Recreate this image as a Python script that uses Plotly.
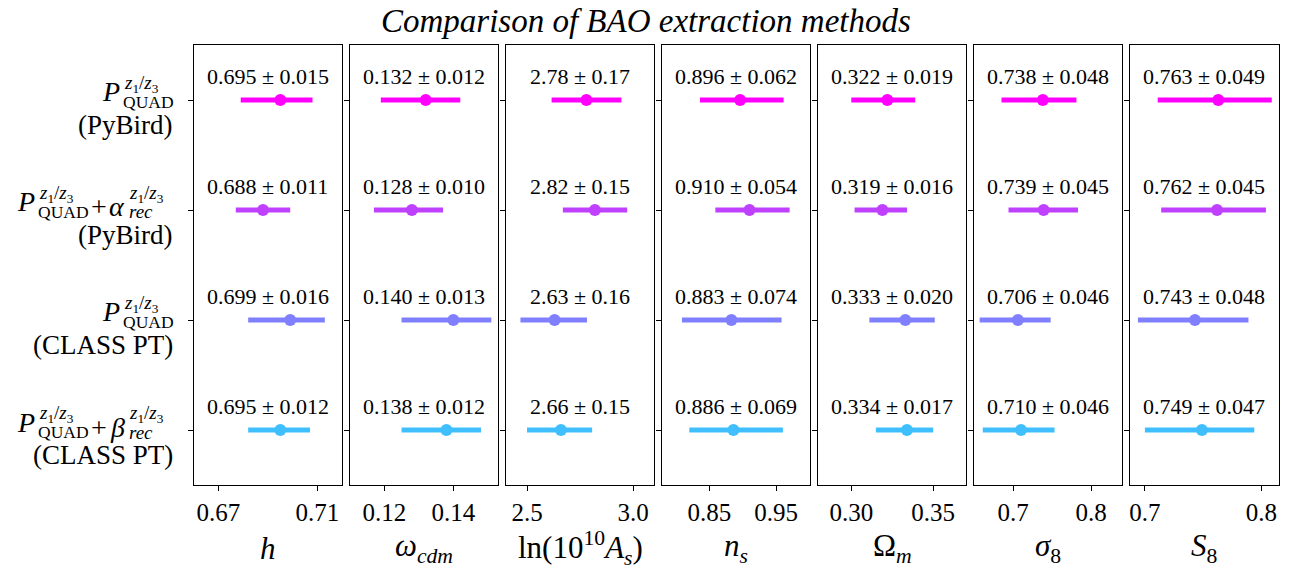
import plotly.graph_objects as go

W, H = 1296, 571

# ---------------- data ----------------
rows = ["PQUAD (PyBird)", "PQUAD + alpha_rec (PyBird)", "PQUAD (CLASS PT)", "PQUAD + beta_rec (CLASS PT)"]
colors = ["#ff00ff", "#bf40ff", "#8080ff", "#40bfff"]

axis_titles = ["<i>h</i>", "<i>ω</i><sub><i>cdm</i></sub>",
               "ln(10<sup>10</sup><i>A</i><sub><i>s</i></sub>)",
               "<i>n</i><sub><i>s</i></sub>", "Ω<sub><i>m</i></sub>",
               "<i>σ</i><sub>8</sub>", "<i>S</i><sub>8</sub>"]

h_mean = [0.695, 0.688, 0.699, 0.695]
h_sig = [0.015, 0.011, 0.016, 0.012]
h_lo = [0.679, 0.677, 0.682, 0.682]
h_hi = [0.708, 0.699, 0.713, 0.707]

wcdm_mean = [0.132, 0.128, 0.140, 0.138]
wcdm_sig = [0.012, 0.010, 0.013, 0.012]
wcdm_lo = [0.119, 0.117, 0.125, 0.125]
wcdm_hi = [0.142, 0.137, 0.151, 0.148]

lnAs_mean = [2.78, 2.82, 2.63, 2.66]
lnAs_sig = [0.17, 0.15, 0.16, 0.15]
lnAs_lo = [2.616, 2.669, 2.469, 2.500]
lnAs_hi = [2.945, 2.972, 2.783, 2.807]

ns_mean = [0.896, 0.910, 0.883, 0.886]
ns_sig = [0.062, 0.054, 0.074, 0.069]
ns_lo = [0.836, 0.859, 0.809, 0.820]
ns_hi = [0.961, 0.970, 0.958, 0.960]

Om_mean = [0.322, 0.319, 0.333, 0.334]
Om_sig = [0.019, 0.016, 0.020, 0.017]
Om_lo = [0.300, 0.302, 0.311, 0.315]
Om_hi = [0.339, 0.334, 0.351, 0.350]

s8_mean = [0.738, 0.739, 0.706, 0.710]
s8_sig = [0.048, 0.045, 0.046, 0.046]
s8_lo = [0.685, 0.694, 0.657, 0.661]
s8_hi = [0.781, 0.783, 0.748, 0.753]

S8_mean = [0.763, 0.762, 0.743, 0.749]
S8_sig = [0.049, 0.045, 0.048, 0.047]
S8_lo = [0.711, 0.714, 0.694, 0.700]
S8_hi = [0.809, 0.804, 0.789, 0.794]

decimals = [3, 3, 2, 3, 3, 3, 3]
tick_vals = [[0.67, 0.71], [0.12, 0.14], [2.5, 3.0], [0.85, 0.95], [0.30, 0.35], [0.7, 0.8], [0.7, 0.8]]
tick_text = [["0.67", "0.71"], ["0.12", "0.14"], ["2.5", "3.0"], ["0.85", "0.95"], ["0.30", "0.35"], ["0.7", "0.8"], ["0.7", "0.8"]]
x_ranges = [[0.660, 0.720], [0.110, 0.153], [2.40, 3.10], [0.779, 1.001], [0.2796, 0.3703], [0.6497, 0.840], [0.6872, 0.8148]]

means = [h_mean, wcdm_mean, lnAs_mean, ns_mean, Om_mean, s8_mean, S8_mean]
sigs = [h_sig, wcdm_sig, lnAs_sig, ns_sig, Om_sig, s8_sig, S8_sig]
los = [h_lo, wcdm_lo, lnAs_lo, ns_lo, Om_lo, s8_lo, S8_lo]
his = [h_hi, wcdm_hi, lnAs_hi, ns_hi, Om_hi, s8_hi, S8_hi]

# ---------------- layout geometry (pixels) ----------------
SERIF = "Liberation Serif"
left0, step, pw = 193.7, 156.05, 148.5
top_px, bot_px = 45, 485


def fx(px):
    return px / W


def fy(py):
    return 1 - py / H


fig = go.Figure()
layout = dict(width=W, height=H, autosize=False,
              margin=dict(l=0, r=0, t=0, b=0),
              paper_bgcolor="white", plot_bgcolor="white",
              showlegend=False, font=dict(family=SERIF, color="black"))
annotations = []

for i in range(7):
    xa = "x" if i == 0 else f"x{i+1}"
    ya = "y" if i == 0 else f"y{i+1}"
    xk = "xaxis" if i == 0 else f"xaxis{i+1}"
    yk = "yaxis" if i == 0 else f"yaxis{i+1}"
    L = left0 + i * step
    layout[xk] = dict(domain=[fx(L), fx(L + pw)], anchor=ya, range=x_ranges[i],
                      tickvals=tick_vals[i], ticktext=tick_text[i],
                      ticks="outside", ticklen=5, tickwidth=1, tickcolor="black",
                      showline=True, mirror=True, linecolor="black", linewidth=1.2,
                      showgrid=False, zeroline=False,
                      tickfont=dict(family=SERIF, size=25, color="black"))
    layout[yk] = dict(domain=[fy(bot_px), fy(top_px)], anchor=xa, range=[3.5, -0.5],
                      tickvals=[0, 1, 2, 3], showticklabels=False,
                      ticks="outside", ticklen=5, tickwidth=1, tickcolor="black",
                      showline=True, mirror=True, linecolor="black", linewidth=1.2,
                      showgrid=False, zeroline=False)
    for r in range(4):
        m = means[i][r]
        fig.add_trace(go.Scatter(
            x=[m], y=[r], xaxis=xa, yaxis=ya, mode="markers",
            marker=dict(color=colors[r], size=12),
            error_x=dict(type="data", symmetric=False,
                         array=[his[i][r] - m], arrayminus=[m - los[i][r]],
                         color=colors[r], thickness=5, width=0),
            hoverinfo="skip"))
        d = decimals[i]
        annotations.append(dict(
            xref=f"{xa} domain", x=0.5, yref=ya, y=r - 0.21,
            text=f"{m:.{d}f} ± {sigs[i][r]:.{d}f}", showarrow=False,
            xanchor="center", yanchor="middle",
            font=dict(family=SERIF, size=22, color="black")))
    annotations.append(dict(
        xref=f"{xa} domain", x=0.5, yref="paper", y=fy(548),
        text=axis_titles[i], showarrow=False, xanchor="center", yanchor="middle",
        font=dict(family=SERIF, size=31, color="black")))

# title
annotations.append(dict(
    xref="paper", yref="paper", x=fx(646), y=fy(1),
    text="<i>Comparison of BAO extraction methods</i>", showarrow=False,
    xanchor="center", yanchor="top",
    font=dict(family=SERIF, size=33, color="black")))

# ---------------- row labels (stacked sub/superscripts) ----------------
row_centers = [100.7, 210.7, 321.0, 431.0]
SUP = "<i>z</i><sub>1</sub>/<i>z</i><sub>3</sub>"
second_lines = ["(PyBird)", "(PyBird)", "(CLASS PT)", "(CLASS PT)"]
extra_syms = [None, "<i>α</i>", None, "<i>β</i>"]


def piece(text, x, y, anchor, size):
    annotations.append(dict(xref="paper", yref="paper", x=fx(x), y=fy(y),
                            text=text, showarrow=False, xanchor=anchor,
                            yanchor="middle",
                            font=dict(family=SERIF, size=size, color="black")))


for r in range(4):
    yc = row_centers[r]
    pr = 122 if extra_syms[r] is None else 37
    piece("<i>P</i>", pr, yc - 9, "right", 28)
    piece("QUAD", pr - 1, yc + 1, "left", 17.5)
    piece(SUP, pr, yc - 17, "left", 19)
    if extra_syms[r] is not None:
        piece("+", 99, yc - 4, "center", 28)
        piece(extra_syms[r], 127, yc - 4, "right", 28)
        piece(SUP, 127, yc - 17, "left", 19)
        piece("<i>rec</i>", 127, yc + 1, "left", 19)
    piece(second_lines[r], 175, yc + 24, "right", 27)

layout["annotations"] = annotations
fig.update_layout(**layout)
fig.write_html("out.html")
